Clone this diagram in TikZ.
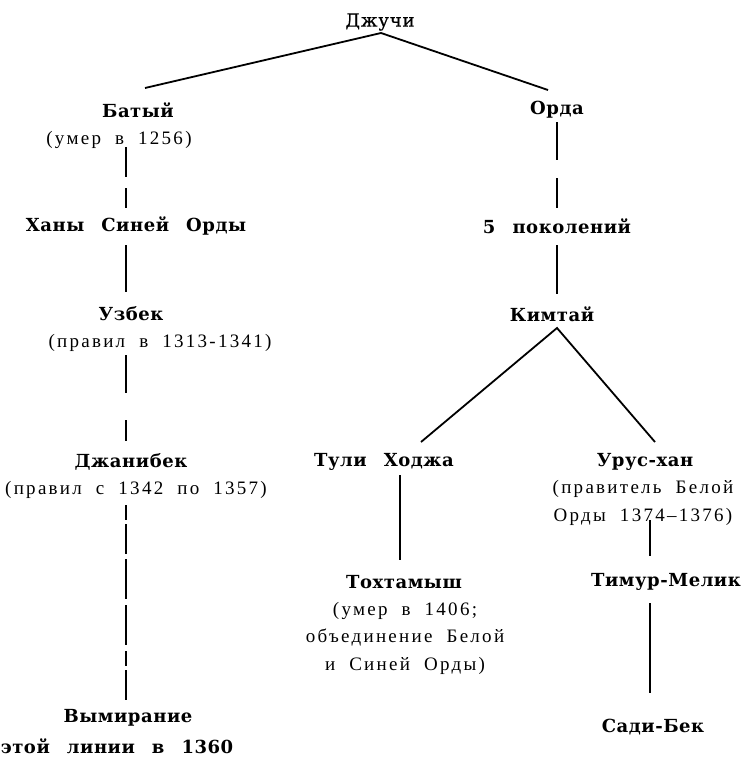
\documentclass[tikz,border=0pt]{standalone}
\usepackage{fontspec}
\setmainfont{Liberation Serif}
\newfontfamily\namefont[LetterSpace=3,WordSpace=2.5]{DejaVu Serif Bold}
\newfontfamily\notefont[LetterSpace=12,WordSpace=2]{Liberation Serif}
\newfontfamily\topfont[LetterSpace=5,FakeBold=0.6]{DejaVu Serif}
\begin{document}
\begin{tikzpicture}[x=1pt,y=-1pt,
  nm/.style={inner sep=0pt,font=\namefont\fontsize{18}{22}\selectfont},
  nt/.style={inner sep=0pt,font=\notefont\fontsize{19}{27.5}\selectfont,align=center},
  ln/.style={line width=1.8pt},
  ln2/.style={line width=1.6pt}]
\useasboundingbox (0,0) rectangle (743,763);
% nodes
\node[inner sep=0pt,font=\topfont\fontsize{18}{22}\selectfont] (dj) at (380,22) {Джучи};
\node[nm] (bat) at (138,110) {Батый};
\node[nt] (batS) at (119,140) {(умер в 1256)};
\node[nm] (khany) at (136,226) {Ханы Синей Орды};
\node[nm] (uzb) at (131,314) {Узбек};
\node[nt] (uzbS) at (160,343) {(правил в 1313-1341)};
\node[nm] (dzh) at (131,462) {Джанибек};
\node[nt] (dzhS) at (136,490) {(правил с 1342 по 1357)};
\node[nm] (vym) at (128,718) {Вымирание};
\node[nm] (vym2) at (117,746) {этой линии в 1360};
\node[nm] (orda) at (557,110) {Орда};
\node[nm] (pok) at (557,226) {5 поколений};
\node[nm] (kim) at (552,314) {Кимтай};
\node[nm] (tuli) at (384,462) {Тули Ходжа};
\node[nm] (urus) at (645,462) {Урус-хан};
\node[nt] (urusS) at (643,503) {(правитель Белой\\Орды 1374–1376)};
\node[nm] (tokh) at (404,582) {Тохтамыш};
\node[nt] (tokhS) at (405,638) {(умер в 1406;\\объединение Белой\\и Синей Орды)};
\node[nm] (timur) at (666,582) {Тимур-Мелик};
\node[nm] (sadi) at (653,727) {Сади-Бек};
% connector end points
\coordinate (djA) at (381,33);
\coordinate (batT) at (145,88);
\coordinate (ordaT) at (548,90);
\coordinate (kimA) at (557,328);
\coordinate (tuliT) at (421,442);
\coordinate (urusT) at (655,442);
\coordinate (L1a) at (126,147); \coordinate (L1b) at (126,208);
\coordinate (L2a) at (126,245); \coordinate (L2b) at (126,292);
\coordinate (L3a) at (126,355); \coordinate (L3b) at (126,441);
\coordinate (L4a) at (126,505); \coordinate (L4b) at (126,700);
\coordinate (R1a) at (557,122); \coordinate (R1b) at (557,208);
\coordinate (R2a) at (557,245); \coordinate (R2b) at (557,294);
\coordinate (T1a) at (400,475); \coordinate (T1b) at (400,560);
\coordinate (U1a) at (650,520); \coordinate (U1b) at (650,556);
\coordinate (U2a) at (650,603); \coordinate (U2b) at (650,693);
% connectors
\draw[ln] (batT) -- (djA) -- (ordaT);
\draw[ln] (tuliT) -- (kimA) -- (urusT);
\draw[ln2,dash pattern=on 30pt off 11pt] (L1a) -- (L1b);
\draw[ln2] (L2a) -- (L2b);
\draw[ln2,dash pattern=on 38pt off 27pt] (L3a) -- (L3b);
\draw[ln2,dash pattern=on 15pt off 4pt on 30pt off 5pt on 40pt off 6pt on 40pt off 6pt] (L4a) -- (L4b);
\draw[ln2,dash pattern=on 38pt off 18pt] (R1a) -- (R1b);
\draw[ln2] (R2a) -- (R2b);
\draw[ln2] (T1a) -- (T1b);
\draw[ln2] (U1a) -- (U1b);
\draw[ln2] (U2a) -- (U2b);
\end{tikzpicture}
\end{document}
